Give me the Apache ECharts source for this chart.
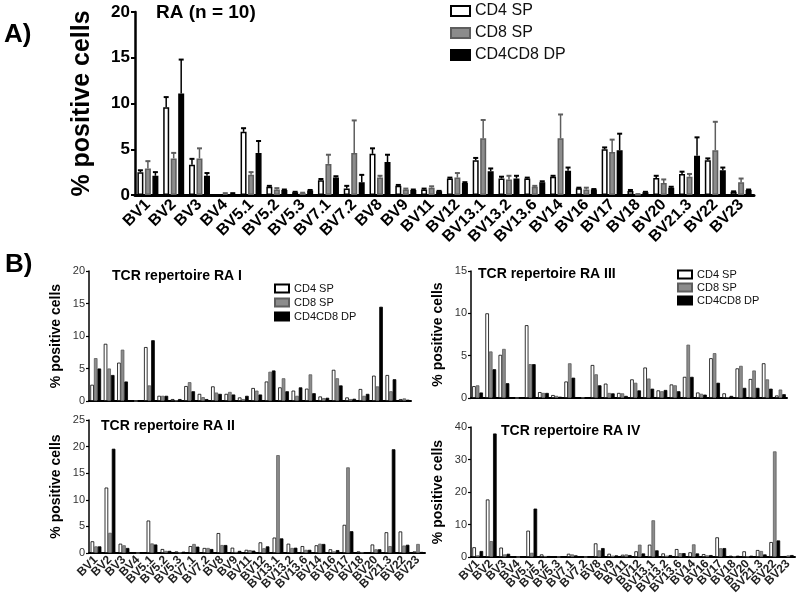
<!DOCTYPE html>
<html>
<head>
<meta charset="utf-8">
<title>TCR repertoire RA</title>
<script src="https://cdn.jsdelivr.net/npm/echarts@6/dist/echarts.min.js"></script>
<style>
  html, body { margin: 0; padding: 0; background: #fff; }
  #chart { width: 798px; height: 602px; }
</style>
</head>
<body>
<div id="chart"></div>
<script>
  let categories = ['BV1', 'BV2', 'BV3', 'BV4', 'BV5.1', 'BV5.2', 'BV5.3', 'BV7.1', 'BV7.2', 'BV8', 'BV9', 'BV11',
    'BV12', 'BV13.1', 'BV13.2', 'BV13.6', 'BV14', 'BV16', 'BV17', 'BV18', 'BV20', 'BV21.3', 'BV22', 'BV23']
  let seriesNames = ['CD4 SP', 'CD8 SP', 'CD4CD8 DP']

  // A) RA (n = 10): means and top of the error bar
  let raCd4 = [2.5, 9.6, 3.3, 0, 6.9, 0.9, 0.3, 1.6, 0.7, 4.5, 1.0, 0.6, 1.8, 3.8, 1.8, 1.8, 2.0, 0.75, 5.0, 0.45, 1.85, 2.3, 3.8, 0.35]
  let raCd8 = [2.9, 4.0, 4.0, 0.15, 2.2, 0.6, 0.2, 3.4, 4.6, 1.9, 0.6, 0.8, 1.9, 6.2, 1.7, 0.9, 6.2, 0.6, 4.7, 0.05, 1.3, 2.0, 4.9, 1.4]
  let raDp = [2.1, 11.1, 2.1, 0.15, 4.6, 0.55, 0.5, 1.9, 1.4, 3.6, 0.55, 0.4, 1.3, 2.6, 1.8, 1.4, 2.65, 0.6, 4.9, 0.3, 0.8, 4.3, 2.7, 0.55]
  let raCd4Hi = [2.7, 10.7, 3.95, 0, 7.3, 1.0, 0.35, 1.75, 1.0, 5.1, 1.1, 0.7, 1.9, 4.05, 2.0, 1.9, 2.1, 0.8, 5.2, 0.55, 2.1, 2.55, 4.0, 0.4]
  let raCd8Hi = [3.7, 4.6, 5.1, 0.2, 2.5, 0.75, 0.25, 4.4, 8.15, 2.1, 0.7, 0.95, 2.4, 8.2, 2.1, 1.0, 8.8, 0.8, 6.05, 0.1, 1.7, 2.3, 8.0, 1.8]
  let raDpHi = [2.5, 14.8, 2.4, 0.2, 5.9, 0.6, 0.55, 2.05, 2.2, 4.4, 0.6, 0.45, 1.4, 2.9, 2.1, 1.5, 3.0, 0.65, 6.7, 0.35, 0.9, 6.3, 3.0, 0.6]

  // B) single patients
  let ra1Cd4 = [2.5, 8.8, 5.9, 0, 8.3, 0.8, 0.3, 2.3, 1.1, 2.25, 1.1, 0.55, 2.0, 3.0, 2.1, 1.6, 1.9, 0.7, 4.8, 0.55, 1.85, 3.9, 4.0, 0.3]
  let ra1Cd8 = [6.6, 5.0, 7.9, 0, 2.4, 0.8, 0.1, 2.9, 0.6, 1.3, 1.4, 0.3, 1.6, 4.5, 3.5, 0.8, 4.1, 0.45, 3.5, 0.3, 0.8, 2.25, 1.5, 0.4]
  let ra1Dp = [5.0, 4.0, 3.0, 0, 9.35, 0.8, 0.3, 1.5, 0.3, 1.1, 1.0, 0.8, 1.0, 4.7, 1.5, 2.1, 1.2, 0.5, 2.4, 0.35, 1.1, 14.5, 3.35, 0.2]

  let ra2Cd4 = [2.2, 12.3, 1.75, 0, 6.1, 0.75, 0.3, 1.3, 0.95, 3.75, 1.0, 0.6, 2.0, 2.9, 1.75, 1.3, 1.45, 0.7, 5.3, 0.3, 1.6, 3.9, 4.05, 0.3]
  let ra2Cd8 = [1.25, 3.8, 1.45, 0, 1.8, 0.4, 0.1, 1.7, 0.95, 1.5, 0.2, 0.55, 0.9, 18.4, 0.95, 0.6, 1.75, 0.3, 16.1, 0.1, 0.7, 1.3, 1.4, 1.7]
  let ra2Dp = [1.25, 19.6, 0.95, 0, 1.6, 0.4, 0.25, 1.2, 0.75, 1.5, 0.4, 0.45, 1.25, 2.75, 1.0, 0.6, 1.7, 0.55, 4.1, 0.1, 0.7, 19.5, 1.55, 0.2]

  let ra3Cd4 = [1.4, 10.0, 5.1, 0, 8.6, 0.7, 0.35, 1.95, 0.1, 3.9, 1.7, 0.6, 2.2, 3.6, 0.9, 1.6, 2.5, 0.65, 4.7, 0.55, 3.5, 2.25, 4.1, 0.3]
  let ra3Cd8 = [1.5, 5.5, 5.8, 0, 4.0, 0.6, 0.25, 4.1, 0.05, 2.8, 0.6, 0.55, 1.8, 2.3, 0.8, 1.5, 6.3, 0.5, 5.3, 0.1, 3.8, 3.25, 2.2, 1.0]
  let ra3Dp = [0.65, 3.4, 1.75, 0, 4.0, 0.6, 0.15, 2.4, 0.05, 1.5, 0.55, 0.25, 0.9, 1.1, 0.95, 0.8, 2.5, 0.4, 1.8, 0.25, 1.2, 1.2, 1.1, 0.45]

  let ra4Cd4 = [3.0, 17.7, 2.9, 0, 8.1, 0.8, 0.1, 1.0, 0.05, 4.2, 1.0, 0.7, 1.75, 3.8, 1.1, 2.45, 1.45, 0.9, 6.05, 0.4, 1.75, 2.15, 4.6, 0.3]
  let ra4Cd8 = [0.5, 4.9, 0.8, 0, 1.3, 0.3, 0.05, 0.8, 0, 2.05, 0.4, 0.8, 3.8, 11.3, 0.4, 1.2, 3.9, 0.5, 2.7, 0.2, 0.2, 1.85, 32.5, 0.5]
  let ra4Dp = [1.85, 38, 1.0, 0, 14.9, 0.3, 0.05, 0.5, 0, 2.75, 0.5, 0.6, 1.1, 2.05, 0.6, 1.2, 1.1, 0.6, 2.75, 0.4, 0.4, 0.8, 5.1, 0.6]

  // y axis ticks per panel: [max, interval]
  let yTicksA = [20, 5]
  let yTicksRA1 = [20, 5]
  let yTicksRA2 = [25, 5]
  let yTicksRA3 = [15, 5]
  let yTicksRA4 = [40, 10]

  const font = '"Liberation Sans", Arial, Helvetica, sans-serif'
  const fills = ['#ffffff', '#8c8c8c', '#000000']
  const borders = ['#000000', '#5e5e5e', '#000000']

  // panels: A, RA I, RA III, RA II, RA IV
  let panels = [
    { grid: { left: 135, top: 12, width: 619, height: 183 }, values: [raCd4, raCd8, raDp], ticks: yTicksA,
      big: true, labels: true, nameGap: 40 },
    { grid: { left: 89, top: 271, width: 322, height: 130 }, values: [ra1Cd4, ra1Cd8, ra1Dp], ticks: yTicksRA1,
      labels: false, nameGap: 26 },
    { grid: { left: 471, top: 271, width: 316, height: 127 }, values: [ra3Cd4, ra3Cd8, ra3Dp], ticks: yTicksRA3,
      labels: false, nameGap: 26 },
    { grid: { left: 89, top: 420, width: 336, height: 133 }, values: [ra2Cd4, ra2Cd8, ra2Dp], ticks: yTicksRA2,
      labels: true, nameGap: 26 },
    { grid: { left: 471, top: 427, width: 324, height: 130 }, values: [ra4Cd4, ra4Cd8, ra4Dp], ticks: yTicksRA4,
      labels: true, nameGap: 26 }
  ]

  let grids = []
  let xAxes = []
  let yAxes = []
  let series = []

  panels.forEach(function (p, i) {
    grids.push(p.grid)
    xAxes.push({
      gridIndex: i,
      type: 'category',
      data: categories,
      axisLine: { lineStyle: { color: '#000', width: p.big ? 3 : 2 } },
      axisTick: { alignWithLabel: true, length: p.big ? 5 : 4, lineStyle: { color: '#000', width: p.big ? 2 : 1.5 } },
      axisLabel: {
        show: p.labels,
        interval: 0,
        rotate: 45,
        margin: p.big ? 7 : 5,
        fontFamily: font,
        fontWeight: 'bold',
        fontSize: p.big ? 16 : 12,
        color: p.big ? '#000' : '#222'
      }
    })
    yAxes.push({
      gridIndex: i,
      type: 'value',
      min: 0,
      max: p.ticks[0],
      interval: p.ticks[1],
      name: '% positive cells',
      nameLocation: 'middle',
      nameGap: p.nameGap,
      nameTextStyle: { fontFamily: font, fontWeight: 'bold', fontSize: p.big ? 25 : 14, color: '#000' },
      splitLine: { show: false },
      axisLine: { show: true, lineStyle: { color: '#000', width: p.big ? 2.5 : 1.5 } },
      axisTick: { show: true, length: p.big ? 4 : 3, lineStyle: { color: '#000', width: p.big ? 2 : 1.2 } },
      axisLabel: {
        margin: p.big ? 5 : 4,
        fontFamily: font,
        fontWeight: p.big ? 'bold' : 'normal',
        fontSize: p.big ? 17 : 11,
        color: p.big ? '#000' : '#333'
      }
    })
    p.values.forEach(function (vals, k) {
      series.push({
        type: 'bar',
        name: seriesNames[k],
        xAxisIndex: i,
        yAxisIndex: i,
        barWidth: p.big ? 6 : 3.6,
        barGap: p.big ? '25%' : '0%',
        itemStyle: { color: fills[k], borderColor: borders[k], borderWidth: p.big ? 1.5 : 0.8 },
        data: vals
      })
    })
  })

  // error bars for panel A, drawn from the bar top to the upper SEM
  let highs = [raCd4Hi, raCd8Hi, raDpHi]
  let means = [raCd4, raCd8, raDp]
  const barStep = 6 * 1.25
  highs.forEach(function (hi, k) {
    series.push({
      type: 'custom',
      name: seriesNames[k] + ' SEM',
      xAxisIndex: 0,
      yAxisIndex: 0,
      encode: { x: 0, y: [1, 2] },
      data: categories.map(function (c, j) {
        return [j, means[k][j], hi[j]]
      }),
      renderItem: function (params, api) {
        let base = api.coord([api.value(0), api.value(1)])
        let top = api.coord([api.value(0), api.value(2)])
        let x = base[0] + (k - 1) * barStep
        let stroke = borders[k]
        return {
          type: 'group',
          children: [
            { type: 'line', shape: { x1: x, y1: base[1], x2: x, y2: top[1] }, style: { stroke: stroke, lineWidth: 1.5 } },
            { type: 'line', shape: { x1: x - 2.5, y1: top[1], x2: x + 2.5, y2: top[1] }, style: { stroke: stroke, lineWidth: 2 } }
          ]
        }
      },
      z: 3
    })
  })

  const option = {
    backgroundColor: '#fff',
    animation: false,
    textStyle: { fontFamily: font },
    title: [
      { text: 'RA (n = 10)', left: 156, top: 3, padding: 0, textStyle: { fontFamily: font, fontSize: 19, fontWeight: 'bold', color: '#000' } },
      { text: 'TCR repertoire RA I', left: 112, top: 269, padding: 0, textStyle: { fontFamily: font, fontSize: 14, fontWeight: 'bold', color: '#000' } },
      { text: 'TCR repertoire RA III', left: 478, top: 267, padding: 0, textStyle: { fontFamily: font, fontSize: 14, fontWeight: 'bold', color: '#000' } },
      { text: 'TCR repertoire RA II', left: 101, top: 419, padding: 0, textStyle: { fontFamily: font, fontSize: 14, fontWeight: 'bold', color: '#000' } },
      { text: 'TCR repertoire RA IV', left: 501, top: 424, padding: 0, textStyle: { fontFamily: font, fontSize: 14, fontWeight: 'bold', color: '#000' } }
    ],
    legend: [
      {
        data: seriesNames, orient: 'vertical', left: 450, top: 3, padding: 0, icon: 'rect',
        itemWidth: 19, itemHeight: 10, itemGap: 6, selectedMode: false,
        textStyle: { fontFamily: font, fontSize: 16, color: '#111' }
      },
      {
        data: seriesNames, orient: 'vertical', left: 274, top: 283, padding: 0, icon: 'rect',
        itemWidth: 14, itemHeight: 8, itemGap: 3, selectedMode: false,
        textStyle: { fontFamily: font, fontSize: 11, color: '#111' }
      },
      {
        data: seriesNames, orient: 'vertical', left: 677, top: 269, padding: 0, icon: 'rect',
        itemWidth: 14, itemHeight: 8, itemGap: 2, selectedMode: false,
        textStyle: { fontFamily: font, fontSize: 11, color: '#111' }
      }
    ],
    graphic: [
      { type: 'text', left: 4, top: 22, style: { text: 'A)', font: 'bold 26px ' + font, fill: '#000' } },
      { type: 'text', left: 5, top: 252, style: { text: 'B)', font: 'bold 26px ' + font, fill: '#000' } }
    ],
    grid: grids,
    xAxis: xAxes,
    yAxis: yAxes,
    series: series
  }

  let chart = echarts.init(document.getElementById('chart'))
  chart.setOption(option)
  window.addEventListener('resize', () => {
    chart.resize()
  })
</script>
</body>
</html>
